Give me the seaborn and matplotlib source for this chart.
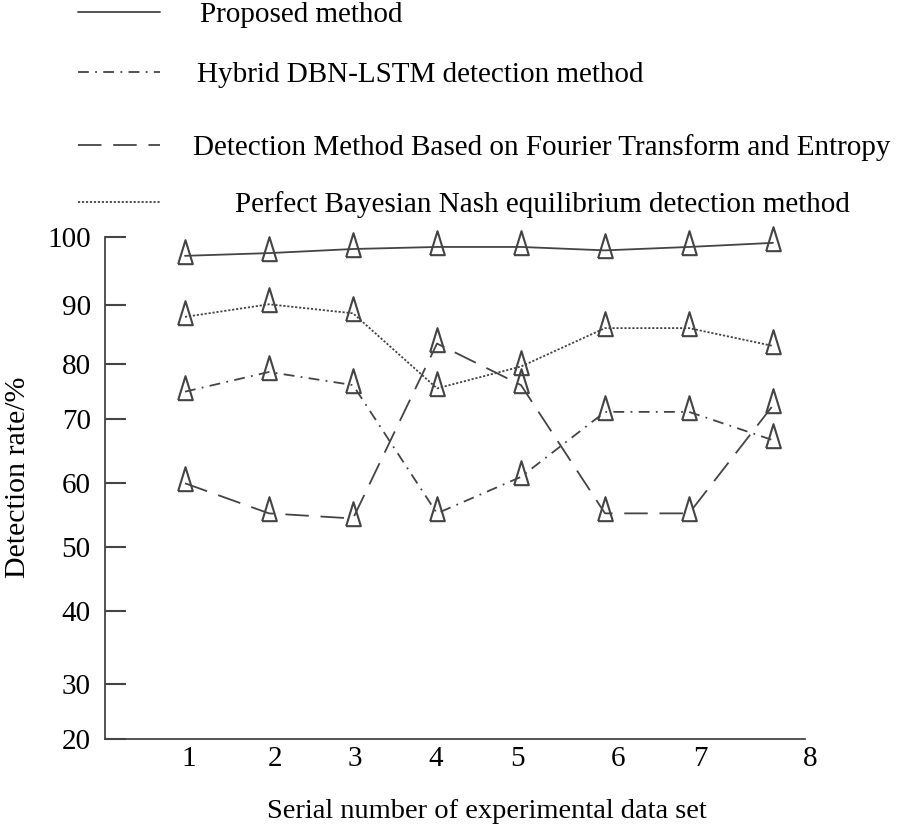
import numpy as np
import pandas as pd
import matplotlib
matplotlib.use('Agg')
import matplotlib.pyplot as plt
from matplotlib.lines import Line2D
import seaborn as sns

# Data
datasets = [1, 2, 3, 4, 5, 6, 7, 8]
proposed = [97.2, 97.6, 98.2, 98.5, 98.5, 98.0, 98.5, 99.1]
dbn_lstm = [75.0, 78.6, 76.2, 55.3, 61.0, 71.3, 71.3, 66.7]
fourier = [60.0, 55.3, 54.5, 83.5, 76.2, 55.3, 55.3, 72.5]
bayes_nash = [88.0, 90.1, 88.6, 75.6, 79.6, 86.1, 86.1, 83.1]

labels = [
    "Proposed method",
    "Hybrid DBN-LSTM detection method",
    "Detection Method Based on Fourier Transform and Entropy",
    "Perfect Bayesian Nash equilibrium detection method",
]

# y axis of the original is drawn by hand: tick values and where they sit (0..1 of axis)
ytick_vals = [20, 30, 40, 50, 60, 70, 80, 90, 100]
ytick_frac = [0.0, 0.1084, 0.2544, 0.3813, 0.5088, 0.6369, 0.7458, 0.864, 1.0]
# x tick labels are also placed a bit irregularly
xtick_pos = [1.04, 2.07, 3.02, 3.98, 4.96, 6.15, 7.13, 8.44]
xtick_lab = ["1", "2", "3", "4", "5", "6", "7", "8"]

sns.set_style("white")
plt.rcParams['font.family'] = ['Liberation Serif', 'DejaVu Serif']
plt.rcParams['text.color'] = 'black'
plt.rcParams['xtick.color'] = 'black'
plt.rcParams['ytick.color'] = 'black'
plt.rcParams['axes.labelcolor'] = 'black'

fig = plt.figure(figsize=(9.01, 8.30), dpi=100)
ax = fig.add_axes([0.1162, 0.110, 0.7977, 0.6048])

grey = "#444444"
# tall thin triangle, anchored near its base
tri = [(-0.45, -0.47), (0.0, 1.0), (0.45, -0.47), (-0.45, -0.47)]
styles = ["-", (0, (6, 3.5, 1, 3.5)), (0, (13, 6.5)), (0, (1.2, 1))]
series = [proposed, dbn_lstm, fourier, bayes_nash]

for vals, ls in zip(series, styles):
    sns.lineplot(x=datasets, y=vals, ax=ax, color=grey, linestyle=ls, lw=1.3,
                 marker=tri, markersize=23.5, markerfacecolor="none",
                 markeredgecolor=grey, markeredgewidth=1.5, legend=False,
                 clip_on=False)


def fwd(v):
    return np.interp(v, ytick_vals, ytick_frac)


def inv(f):
    return np.interp(f, ytick_frac, ytick_vals)


ax.set_yscale('function', functions=(fwd, inv))
ax.set_ylim(20, 100)
ax.set_xlim(0.044, 8.6)
ax.set_yticks(ytick_vals)
ax.set_yticklabels([str(v) for v in ytick_vals])
ax.set_xticks(xtick_pos)
ax.set_xticklabels(xtick_lab)
ax.minorticks_off()

for s in ["top", "right"]:
    ax.spines[s].set_visible(False)
for s in ["left", "bottom"]:
    ax.spines[s].set_color(grey)
    ax.spines[s].set_linewidth(1.3)
ax.spines["bottom"].set_bounds(0.044, 8.38)

ax.tick_params(axis="y", left=True, direction="in", length=15, width=1.5,
               color=grey, labelsize=21, pad=10)
ax.tick_params(axis="x", bottom=False, length=0, labelsize=21, pad=5)

ax.set_ylabel("Detection rate/%", fontsize=21.5)
ax.yaxis.set_label_coords(-0.102, 0.521)
ax.set_xlabel("Serial number of experimental data set", fontsize=20.5, va="top")
ax.xaxis.set_label_coords(0.532, -0.121)

# legend: one row per method, rows placed as in the original
rows_y = [0.982, 0.910, 0.822, 0.753]
pads = [1.37, 1.27, 1.13, 2.57]
for lab, ls, y, p in zip(labels, styles, rows_y, pads):
    h = Line2D([], [], color=grey, linestyle=ls, lw=1.3)
    fig.legend(handles=[h], labels=[lab], loc="center left",
               bbox_to_anchor=(0.0866, y), frameon=False, fontsize=21,
               handlelength=2.81, handletextpad=p, borderpad=0,
               borderaxespad=0)

fig.savefig("out.png", dpi=100)
plt.close()
